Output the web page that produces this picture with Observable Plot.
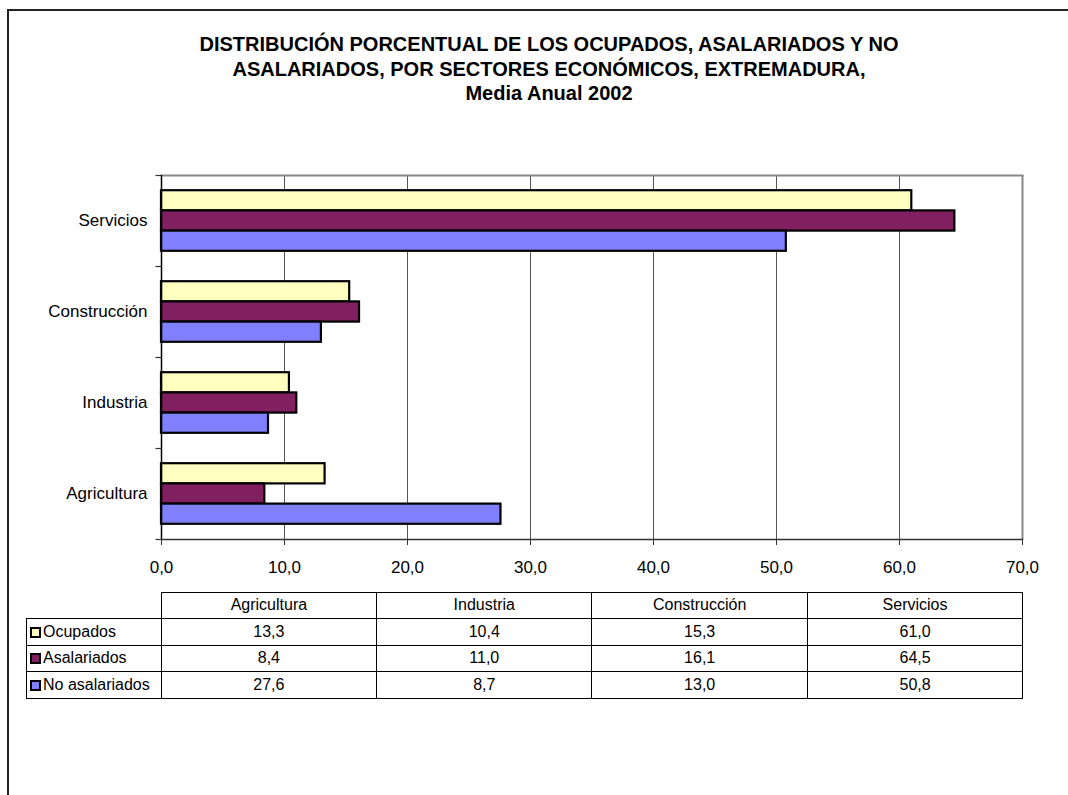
<!DOCTYPE html>
<html>
<head>
<meta charset="utf-8">
<script src="https://cdn.jsdelivr.net/npm/d3@7"></script>
<script src="https://cdn.jsdelivr.net/npm/@observablehq/plot@0.6"></script>
<style>
  html, body { margin: 0; padding: 0; overflow: hidden; background: #fff; }
  #page { position: relative; width: 1068px; height: 795px; font-family: "Liberation Sans", Arial, sans-serif; color: #000; }
  #outer { position: absolute; left: 7px; top: 9px; width: 1080px; height: 820px; border-left: 2px solid #222; border-top: 2px solid #222; }
  #title { position: absolute; left: 0; top: 32px; width: 1098px; text-align: center; font-weight: bold; font-size: 20px; line-height: 24.5px; }
  #chart { position: absolute; left: 0; top: 150px; }
  #tabla { position: absolute; left: 26px; top: 591.5px; border-collapse: collapse; table-layout: fixed; font-size: 16px; }
  #tabla td { border: 1px solid #000; text-align: center; padding: 0; height: 25.6px; white-space: nowrap; }
  #tabla td.leg { text-align: left; }
  #tabla td.empty { border-top: hidden; border-left: hidden; }
  .key { display: inline-block; width: 7px; height: 7px; border: 2px solid #000; margin: 0 2px 0 3px; vertical-align: -1px; }
</style>
</head>
<body>
<div id="page">
  <div id="outer"></div>
  <div id="title">DISTRIBUCIÓN PORCENTUAL DE LOS OCUPADOS, ASALARIADOS Y NO<br>ASALARIADOS, POR SECTORES ECONÓMICOS, EXTREMADURA,<br>Media Anual 2002</div>
  <div id="chart"></div>
  <table id="tabla"></table>
</div>
<script>
const categorias = ["Agricultura", "Industria", "Construcción", "Servicios"];
const series = ["Ocupados", "Asalariados", "No asalariados"];
const ocupados = [13.3, 10.4, 15.3, 61.0];
const asalariados = [8.4, 11.0, 16.1, 64.5];
const noAsalariados = [27.6, 8.7, 13.0, 50.8];
const colores = ["#FFFFC0", "#802060", "#8080FF"];
const xTicks = [0, 10, 20, 30, 40, 50, 60, 70];

const valores = [ocupados, asalariados, noAsalariados];
const fmt = d => d.toFixed(1).replace(".", ",");
const datos = categorias.flatMap((c, i) => series.map((s, j) => ({categoria: c, serie: s, valor: valores[j][i]})));

const bandHalf = 45.5;
const barH = 20.2;

const chart = Plot.plot({
  width: 1068,
  height: 429,
  marginLeft: 161,
  marginRight: 46,
  marginTop: 25,
  marginBottom: 40,
  style: {fontFamily: "'Liberation Sans', Arial, sans-serif", fontSize: "17px", color: "#000", background: "transparent"},
  x: {domain: [0, 70], label: null},
  y: {domain: categorias.slice().reverse(), padding: 0, label: null},
  color: {domain: series, range: colores},
  marks: [
    Plot.ruleX(xTicks.slice(1, -1), {stroke: "#555", strokeWidth: 1}),
    Plot.ruleX([70], {stroke: "#888", strokeWidth: 2}),
    Plot.frame({anchor: "top", stroke: "#888", strokeWidth: 2}),
    ...series.map((s, j) => Plot.barX(datos.filter(d => d.serie === s), {
      x: "valor", y: "categoria", fill: "serie", stroke: "#000", strokeWidth: 2.2,
      insetTop: bandHalf - barH / 2, insetBottom: bandHalf - barH / 2, dy: (j - 1) * barH
    })),
    Plot.ruleX([0], {stroke: "#000", strokeWidth: 1.5}),
    Plot.frame({anchor: "bottom", stroke: "#333", strokeWidth: 1.5}),
    Plot.ruleY(categorias, {y: d => d, dy: -bandHalf, x1: -0.45, x2: 0, stroke: "#333", strokeWidth: 1.2}),
    Plot.ruleY([categorias[0]], {y: d => d, dy: bandHalf, x1: -0.45, x2: 0, stroke: "#333", strokeWidth: 1.2}),
    Plot.axisX(xTicks, {tickSize: 6, tickPadding: 15, tickFormat: fmt, stroke: "#333"}),
    Plot.axisY({tickSize: 0, tickPadding: 14})
  ]
});
document.getElementById("chart").appendChild(chart);

// tabla de datos
const tabla = document.getElementById("tabla");
const colg = document.createElement("colgroup");
[134.7, 215.4, 215.4, 215.4, 215.4].forEach(w => {
  const c = document.createElement("col"); c.style.width = w + "px"; colg.appendChild(c);
});
tabla.appendChild(colg);
const head = document.createElement("tr");
const e = document.createElement("td"); e.className = "empty"; head.appendChild(e);
categorias.forEach(c => { const td = document.createElement("td"); td.textContent = c; head.appendChild(td); });
tabla.appendChild(head);
series.forEach((s, j) => {
  const tr = document.createElement("tr");
  const td0 = document.createElement("td"); td0.className = "leg";
  const k = document.createElement("span"); k.className = "key"; k.style.background = colores[j];
  td0.appendChild(k); td0.appendChild(document.createTextNode(s));
  tr.appendChild(td0);
  valores[j].forEach(v => { const td = document.createElement("td"); td.textContent = fmt(v); tr.appendChild(td); });
  tabla.appendChild(tr);
});
</script>
</body>
</html>
